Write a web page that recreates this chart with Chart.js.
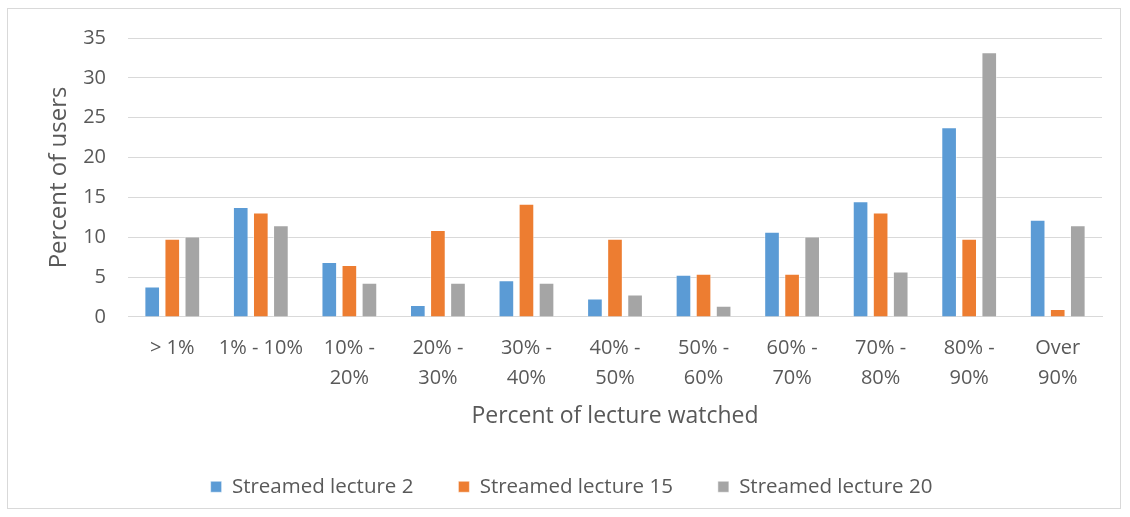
<!DOCTYPE html>
<html lang="en">
<head>
  <meta charset="UTF-8" />
  <title>Percent of lecture watched</title>
  <script src="https://cdn.jsdelivr.net/npm/chart.js"></script>
  <style>
    body { margin: 0; background: #fff; }
    #wrap { position: relative; width: 1130px; height: 517px; }
    #frame { position: absolute; left: 7px; top: 8px; width: 1114px; height: 501px; border: 1px solid #d9d9d9; box-sizing: border-box; }
  </style>
</head>
<body>
<div id="wrap">
  <div id="frame"></div>
  <canvas id="chart" width="1130" height="517"></canvas>
</div>
<script>
const categories = [
  ["> 1%"], ["1% - 10%"], ["10% -", "20%"], ["20% -", "30%"], ["30% -", "40%"],
  ["40% -", "50%"], ["50% -", "60%"], ["60% -", "70%"], ["70% -", "80%"],
  ["80% -", "90%"], ["Over", "90%"]
];
const lecture2  = [3.8, 13.8, 6.9, 1.5, 4.6, 2.3, 5.3, 10.7, 14.5, 23.8, 12.2];
const lecture15 = [9.8, 13.1, 6.5, 10.9, 14.2, 9.8, 5.4, 5.4, 13.1, 9.8, 1.0];
const lecture20 = [10.1, 11.5, 4.3, 4.3, 4.3, 2.8, 1.4, 10.1, 5.7, 33.2, 11.5];
const yTicks = [0, 5, 10, 15, 20, 25, 30, 35];

const textColor = '#595959';
const gridColor = '#d9d9d9';
const fontFamily = '"Open Sans", sans-serif';

function series(label, data, color) {
  return {
    label: label, data: data, backgroundColor: color,
    borderColor: 'rgba(255,255,255,0.5)', borderWidth: 1,
    categoryPercentage: 0.68, barPercentage: 0.78
  };
}

new Chart(document.getElementById('chart').getContext('2d'), {
  type: 'bar',
  data: {
    labels: categories,
    datasets: [
      series('Streamed lecture 2', lecture2, '#5b9bd5'),
      series('Streamed lecture 15', lecture15, '#ed7d31'),
      series('Streamed lecture 20', lecture20, '#a5a5a5')
    ]
  },
  options: {
    responsive: false,
    animation: false,
    layout: { padding: { left: 41, right: 28, top: 38, bottom: 10 } },
    plugins: {
      tooltip: { enabled: false },
      legend: {
        position: 'bottom',
        labels: { boxWidth: 11, boxHeight: 11, padding: 45, color: textColor, font: { family: fontFamily, size: 20.5 } }
      }
    },
    scales: {
      x: {
        grid: { display: false },
        border: { display: true, color: gridColor, width: 1 },
        ticks: { color: textColor, maxRotation: 0, autoSkip: false, padding: 8, font: { family: fontFamily, size: 20, lineHeight: 1.5 } },
        title: { display: true, text: 'Percent of lecture watched', color: textColor, padding: { top: 2, bottom: 1 }, font: { family: fontFamily, size: 23 } }
      },
      y: {
        min: 0, max: 35,
        afterBuildTicks: s => { s.ticks = yTicks.map(v => ({ value: v })); },
        afterFit: s => { s.width = 87; },
        grid: { color: gridColor, lineWidth: 1, drawTicks: false },
        border: { display: false },
        ticks: { color: textColor, padding: 22, font: { family: fontFamily, size: 20 } },
        title: { display: true, text: 'Percent of users', color: textColor, font: { family: fontFamily, size: 24 } }
      }
    }
  }
});
</script>
</body>
</html>
